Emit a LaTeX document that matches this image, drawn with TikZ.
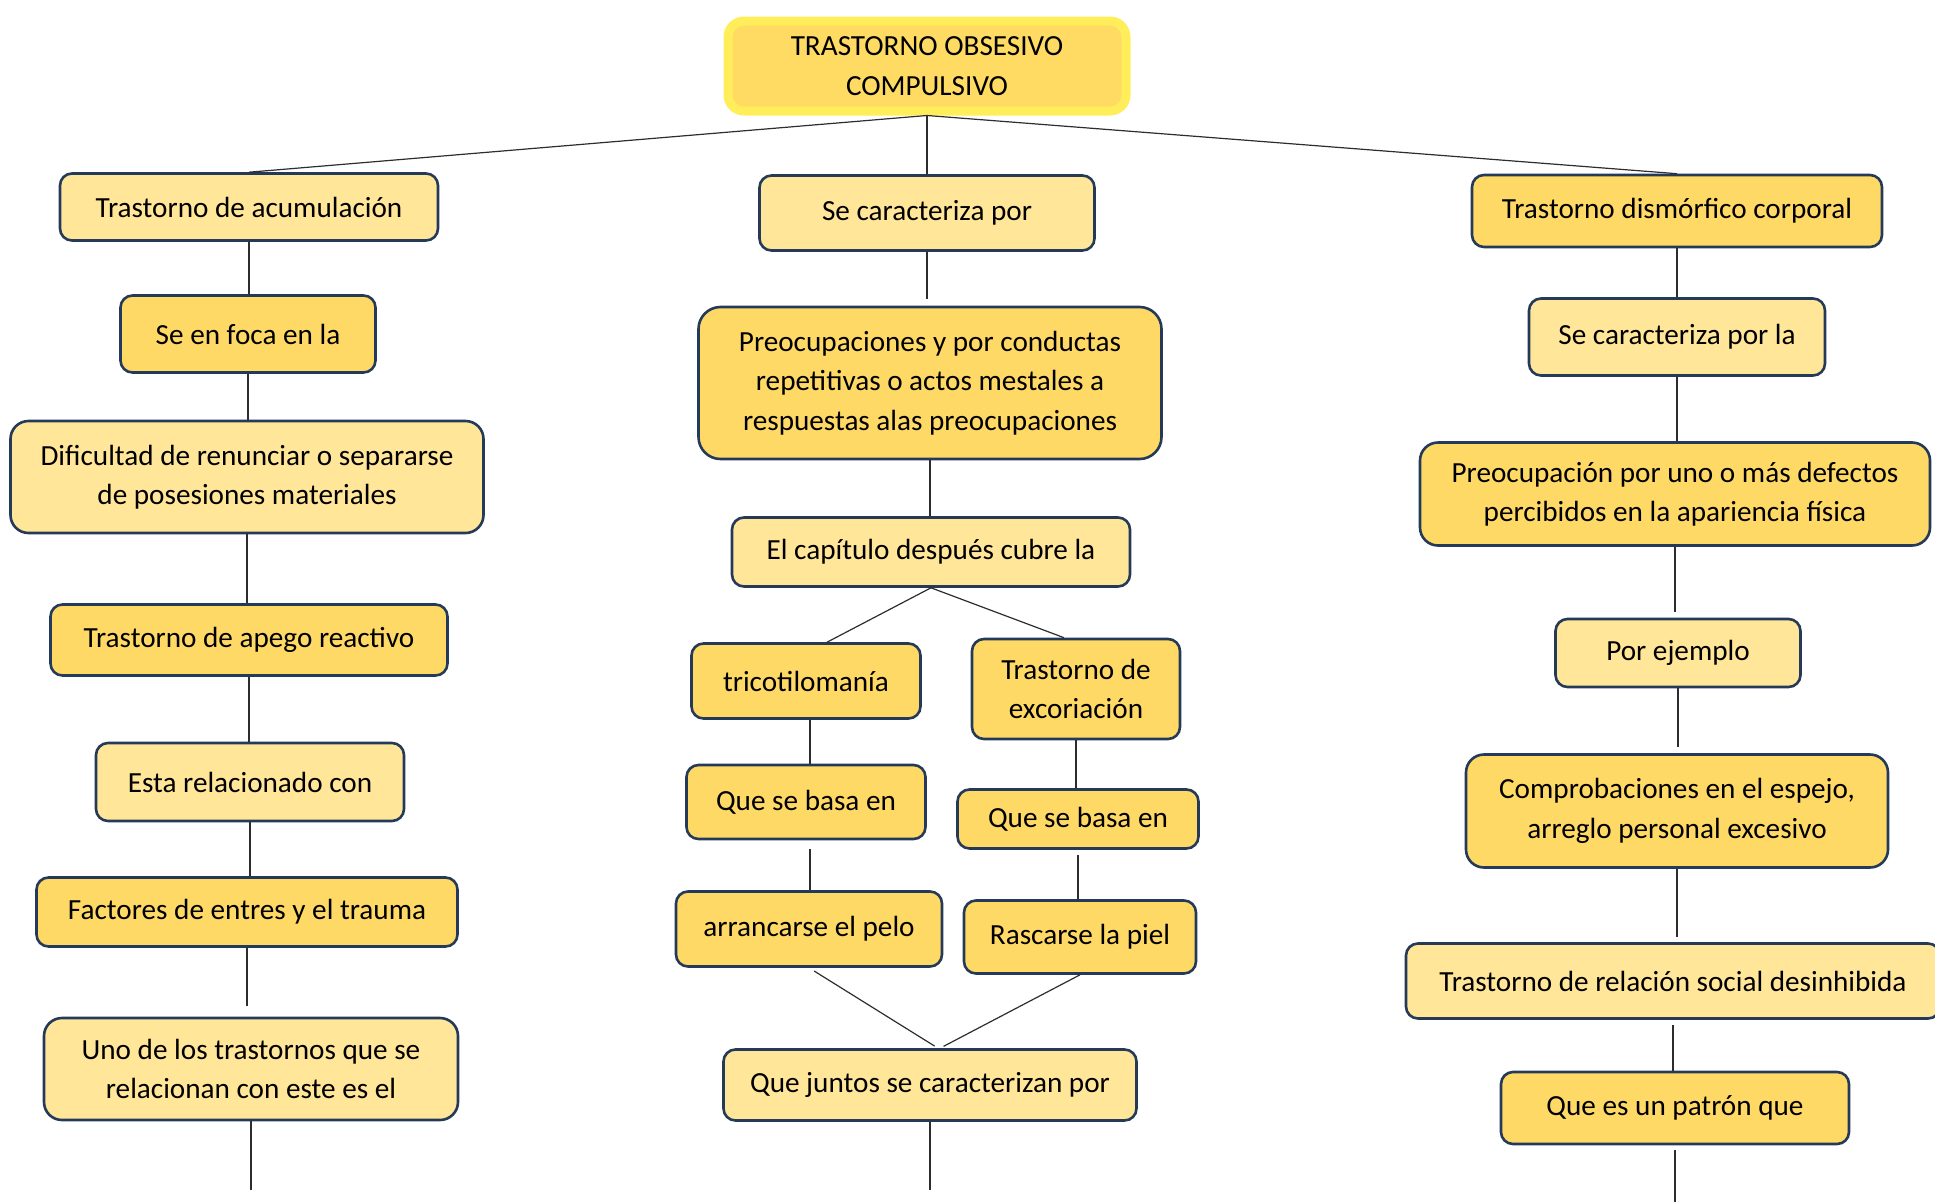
\documentclass[tikz,border=0pt]{standalone}
\usepackage{fontspec}
\setmainfont{Carlito}
\usepackage{tikz}
\usetikzlibrary{positioning}
\definecolor{boxlight}{RGB}{255, 230, 153}
\definecolor{boxdark}{RGB}{255, 217, 102}
\definecolor{boxedge}{RGB}{36, 58, 88}
\definecolor{glowyellow}{RGB}{255, 238, 90}
\definecolor{titlegold}{RGB}{255, 219, 100}
\definecolor{linkgray}{RGB}{45, 45, 45}

\tikzset{
  lightbox/.style={draw=boxedge, fill=boxlight, line width=2.6pt, rounded corners=12pt, align=center, inner sep=0pt},
  darkbox/.style={lightbox, fill=boxdark},
  link/.style={draw=linkgray, line width=1.5pt},
  branch/.style={draw=linkgray, line width=1.2pt},
}

\begin{document}
\begin{tikzpicture}[x=1pt, y=-1pt, font=\fontsize{29.2}{39.5}\selectfont]
  \useasboundingbox (0,0) rectangle (1935,1202);

  % Title
  \node[draw=glowyellow, line width=9pt, fill=titlegold, rounded corners=16pt, minimum width=398pt, minimum height=90pt, align=center] (toc) at (927,66) {TRASTORNO OBSESIVO\\COMPULSIVO};

  % Left column: acumulacion
  \node[lightbox, minimum width=378pt, minimum height=67pt] (acum) at (249,207) {Trastorno de acumulación};
  \node[darkbox, minimum width=255pt, minimum height=77pt] (foca) at (248,334) {Se en foca en la};
  \node[lightbox, minimum width=473pt, minimum height=112pt, rounded corners=18pt] (dific) at (247,477) {Dificultad de renunciar o separarse\\de posesiones materiales};
  \node[darkbox, minimum width=397pt, minimum height=71pt] (apego) at (249,640) {Trastorno de apego reactivo};
  \node[lightbox, minimum width=308pt, minimum height=78pt] (relac) at (250,782) {Esta relacionado con};
  \node[darkbox, minimum width=421pt, minimum height=69pt] (factor) at (247,912) {Factores de entres y el trauma};
  \node[lightbox, minimum width=414pt, minimum height=102pt, rounded corners=18pt] (unode) at (251,1069) {Uno de los trastornos que se\\relacionan con este es el};
  \coordinate (leftend) at (249,1190);

  % Middle column: caracteristicas
  \node[lightbox, minimum width=335pt, minimum height=75pt] (caract) at (927,213) {Se caracteriza por};
  \node[darkbox, minimum width=463pt, minimum height=152pt, rounded corners=22pt] (preoc) at (930,383) {Preocupaciones y por conductas\\repetitivas o actos mestales a\\respuestas alas preocupaciones};
  \node[lightbox, minimum width=398pt, minimum height=69pt] (capit) at (931,552) {El capítulo después cubre la};
  \node[darkbox, minimum width=229pt, minimum height=75pt] (trico) at (806,681) {tricotilomanía};
  \node[darkbox, minimum width=208pt, minimum height=100pt] (excor) at (1076,689) {Trastorno de\\excoriación};
  \node[darkbox, minimum width=239pt, minimum height=74pt] (basaL) at (806,802) {Que se basa en};
  \node[darkbox, minimum width=266pt, minimum height=75pt] (pelo) at (809,929) {arrancarse el pelo};
  \node[darkbox, minimum width=241pt, minimum height=59pt] (basaR) at (1078,819) {Que se basa en};
  \node[darkbox, minimum width=232pt, minimum height=73pt] (piel) at (1080,937) {Rascarse la piel};
  \node[lightbox, minimum width=413pt, minimum height=71pt] (juntos) at (930,1085) {Que juntos se caracterizan por};
  \coordinate (midend) at (930,1190);

  % Right column: dismorfico
  \node[darkbox, minimum width=410pt, minimum height=72pt] (dismorf) at (1677,211) {Trastorno dismórfico corporal};
  \node[lightbox, minimum width=296pt, minimum height=77pt] (secarla) at (1677,337) {Se caracteriza por la};
  \node[darkbox, minimum width=510pt, minimum height=103pt, rounded corners=18pt] (pfisica) at (1675,494) {Preocupación por uno o más defectos\\percibidos en la apariencia física};
  \node[lightbox, minimum width=245pt, minimum height=68pt] (ejemplo) at (1678,653) {Por ejemplo};
  \node[darkbox, minimum width=422pt, minimum height=113pt, rounded corners=18pt] (espejo) at (1677,811) {Comprobaciones en el espejo,\\arreglo personal excesivo};
  \node[lightbox, minimum width=534pt, minimum height=75pt] (social) at (1673,981) {Trastorno de relación social desinhibida};
  \node[darkbox, minimum width=348pt, minimum height=72pt] (patron) at (1675,1108) {Que es un patrón que};
  \coordinate (rightend) at (1675,1202);

  % Top branches
  \draw[branch] (toc.south) -- (acum.north);
  \draw[link] (toc.south) -- (caract.north);
  \draw[branch] (toc.south) -- (dismorf.north);

  % Left links
  \draw[link] (acum.south) -- (acum.south |- foca.north);
  \draw[link] (foca.south) -- (foca.south |- dific.north);
  \draw[link] (dific.south) -- (dific.south |- apego.north);
  \draw[link] (apego.south) -- (apego.south |- relac.north);
  \draw[link] (relac.south) -- (relac.south |- factor.north);
  \draw[link, shorten >=11pt] (factor.south) -- (factor.south |- unode.north);
  \draw[link] (unode.south) -- (unode.south |- leftend);

  % Middle links
  \draw[link, shorten >=7pt] (caract.south) -- (caract.south |- preoc.north);
  \draw[link] (preoc.south) -- (preoc.south |- capit.north);
  \draw[branch] (capit.south) -- ([xshift=21pt]trico.north);
  \draw[branch] (capit.south) -- ([xshift=-12pt]excor.north);
  \draw[link] ([xshift=4pt]trico.south) -- ([xshift=4pt]trico.south |- basaL.north);
  \draw[link, shorten <=9pt] ([xshift=4pt]basaL.south) -- ([xshift=4pt]basaL.south |- pelo.north);
  \draw[link] (excor.south) -- (excor.south |- basaR.north);
  \draw[link, shorten <=5pt] (basaR.south) -- (basaR.south |- piel.north);
  \draw[branch, shorten <=6pt, shorten >=4pt] (pelo.south) -- ([xshift=8pt]juntos.north);
  \draw[branch, shorten >=4pt] (piel.south) -- ([xshift=10pt]juntos.north);
  \draw[link] (juntos.south) -- (juntos.south |- midend);

  % Right links
  \draw[link] (dismorf.south) -- (dismorf.south |- secarla.north);
  \draw[link] (secarla.south) -- (secarla.south |- pfisica.north);
  \draw[link, shorten >=6pt] (pfisica.south) -- (pfisica.south |- ejemplo.north);
  \draw[link, shorten >=6pt] (ejemplo.south) -- (ejemplo.south |- espejo.north);
  \draw[link, shorten >=5pt] (espejo.south) -- (espejo.south |- social.north);
  \draw[link, shorten <=5pt] (social.south) -- (social.south |- patron.north);
  \draw[link, shorten <=5pt] (patron.south) -- (patron.south |- rightend);
\end{tikzpicture}
\end{document}
